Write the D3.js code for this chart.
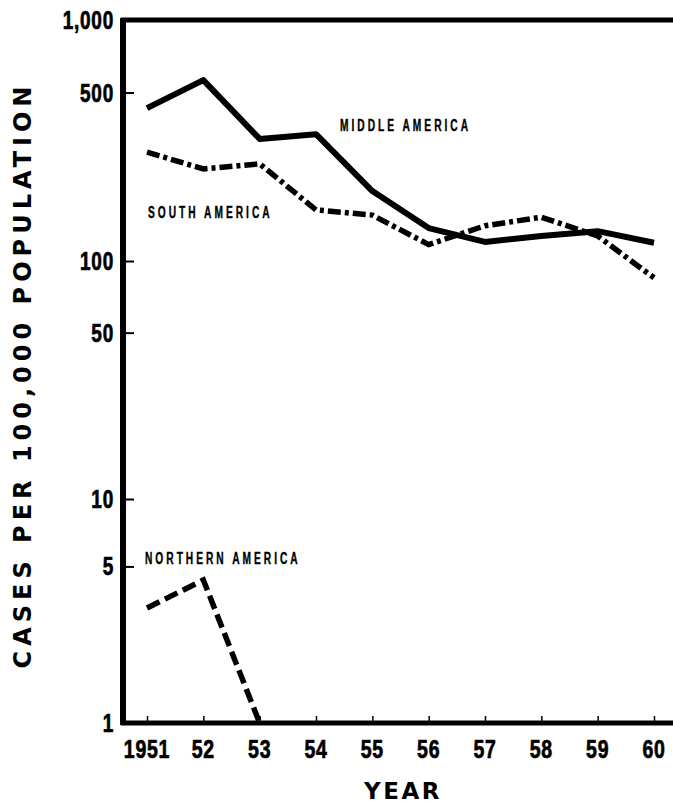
<!DOCTYPE html>
<html><head><meta charset="utf-8">
<script src="https://cdn.jsdelivr.net/npm/d3@7"></script>
<style>
html,body{margin:0;padding:0;background:#fff;}
svg{display:block;}
.tick-lbl{font-family:"Liberation Sans",Arial,sans-serif;font-weight:bold;font-size:25px;letter-spacing:1px;fill:#000;stroke:#000;stroke-width:0.7px;}
.ser-lbl{font-family:"Liberation Sans",Arial,sans-serif;font-weight:bold;font-size:17px;letter-spacing:5px;fill:#000;stroke:#000;stroke-width:0.4px;}
.ax-title{font-family:"DejaVu Sans",sans-serif;font-weight:bold;font-size:24px;letter-spacing:5px;fill:#000;}
.yr-title{font-family:"DejaVu Sans",sans-serif;font-weight:bold;font-size:23px;letter-spacing:2.5px;fill:#000;}
</style></head>
<body>
<script>
const years = [1951,1952,1953,1954,1955,1956,1957,1958,1959,1960];
const yearLabels = ["1951","52","53","54","55","56","57","58","59","60"];
const middleAmerica = [431,563,321,336,195,137,120,127,133,119];
const southAmerica = [283,241,253,163,155,117,140,152,127,85];
const northernYears = [1951,1952,1953];
const northernAmerica = [3.26,4.35,1.0];
const yTicks = [1000,500,100,50,10,5,1];
const yTickLabels = ["1,000","500","100","50","10","5","1"];
const seriesLabels = ["MIDDLE AMERICA","SOUTH AMERICA","NORTHERN AMERICA"];

const W=673,H=807;
const svg=d3.select("body").append("svg").attr("width",W).attr("height",H);
const x=d3.scaleLinear().domain([1951,1960]).range([147,654]);
// log scale, piecewise per decade to follow the printed axis spacing
const y=d3.scaleLog().domain([1,10,100,1000]).range([723,499,261,20]);
const axisX=123;

// frame lines
svg.append("line").attr("x1",axisX).attr("x2",axisX).attr("y1",y(1000)-2).attr("y2",y(1)+2)
  .attr("stroke","#000").attr("stroke-width",6);
svg.append("line").attr("x1",axisX-2).attr("x2",673).attr("y1",y(1000)).attr("y2",y(1000))
  .attr("stroke","#000").attr("stroke-width",5);
svg.append("line").attr("x1",axisX-2).attr("x2",673).attr("y1",y(1)).attr("y2",y(1))
  .attr("stroke","#000").attr("stroke-width",5);

// y ticks
const yAxis=d3.axisRight(y).tickValues(yTicks.filter(v=>v!==1000&&v!==1)).tickSize(11).tickFormat("");
const gy=svg.append("g").attr("transform",`translate(${axisX},0)`).call(yAxis);
gy.select(".domain").remove();
gy.selectAll(".tick line").attr("stroke","#000").attr("stroke-width",2);
svg.append("g").selectAll("text").data(yTicks).enter().append("text")
  .attr("class","tick-lbl").attr("text-anchor","end")
  .attr("transform",d=>`translate(${axisX-9},${y(d)+9}) scale(0.76,1)`)
  .text((d,i)=>yTickLabels[i]);

// x ticks
const xAxis=d3.axisTop(x).tickValues(years).tickSize(7).tickFormat("");
const gx=svg.append("g").attr("transform",`translate(0,${y(1)})`).call(xAxis);
gx.select(".domain").remove();
gx.selectAll(".tick line").attr("stroke","#000").attr("stroke-width",1.5);
svg.append("g").selectAll("text").data(years).enter().append("text")
  .attr("class","tick-lbl").attr("text-anchor","middle")
  .attr("transform",d=>`translate(${x(d)},758) scale(0.78,1)`)
  .text((d,i)=>yearLabels[i]);

// lines
const line=d3.line().x(d=>x(d[0])).y(d=>y(d[1]));
svg.append("path").datum(years.map((yr,i)=>[yr,middleAmerica[i]]))
  .attr("d",line).attr("fill","none").attr("stroke","#000").attr("stroke-width",6)
  .attr("stroke-linejoin","round");
svg.append("path").datum(years.map((yr,i)=>[yr,southAmerica[i]]))
  .attr("d",line).attr("fill","none").attr("stroke","#000").attr("stroke-width",5.5)
  .attr("stroke-dasharray","13,4,4,4");
svg.append("path").datum(northernYears.map((yr,i)=>[yr,northernAmerica[i]]))
  .attr("d",line).attr("fill","none").attr("stroke","#000").attr("stroke-width",5.5)
  .attr("stroke-dasharray","14,6");

// series labels
const labelPos=[[340,131],[148,218],[145,564]];
svg.append("g").selectAll("text").data(seriesLabels).enter().append("text")
  .attr("class","ser-lbl")
  .attr("transform",(d,i)=>`translate(${labelPos[i][0]},${labelPos[i][1]}) scale(0.6,1)`)
  .text(d=>d);

// axis titles
svg.append("text").attr("class","ax-title").attr("transform","translate(31,375) rotate(-90)")
  .attr("text-anchor","middle").text("CASES PER 100,000 POPULATION");
svg.append("text").attr("class","yr-title").attr("x",403).attr("y",799)
  .attr("text-anchor","middle").text("YEAR");
</script>
</body></html>
